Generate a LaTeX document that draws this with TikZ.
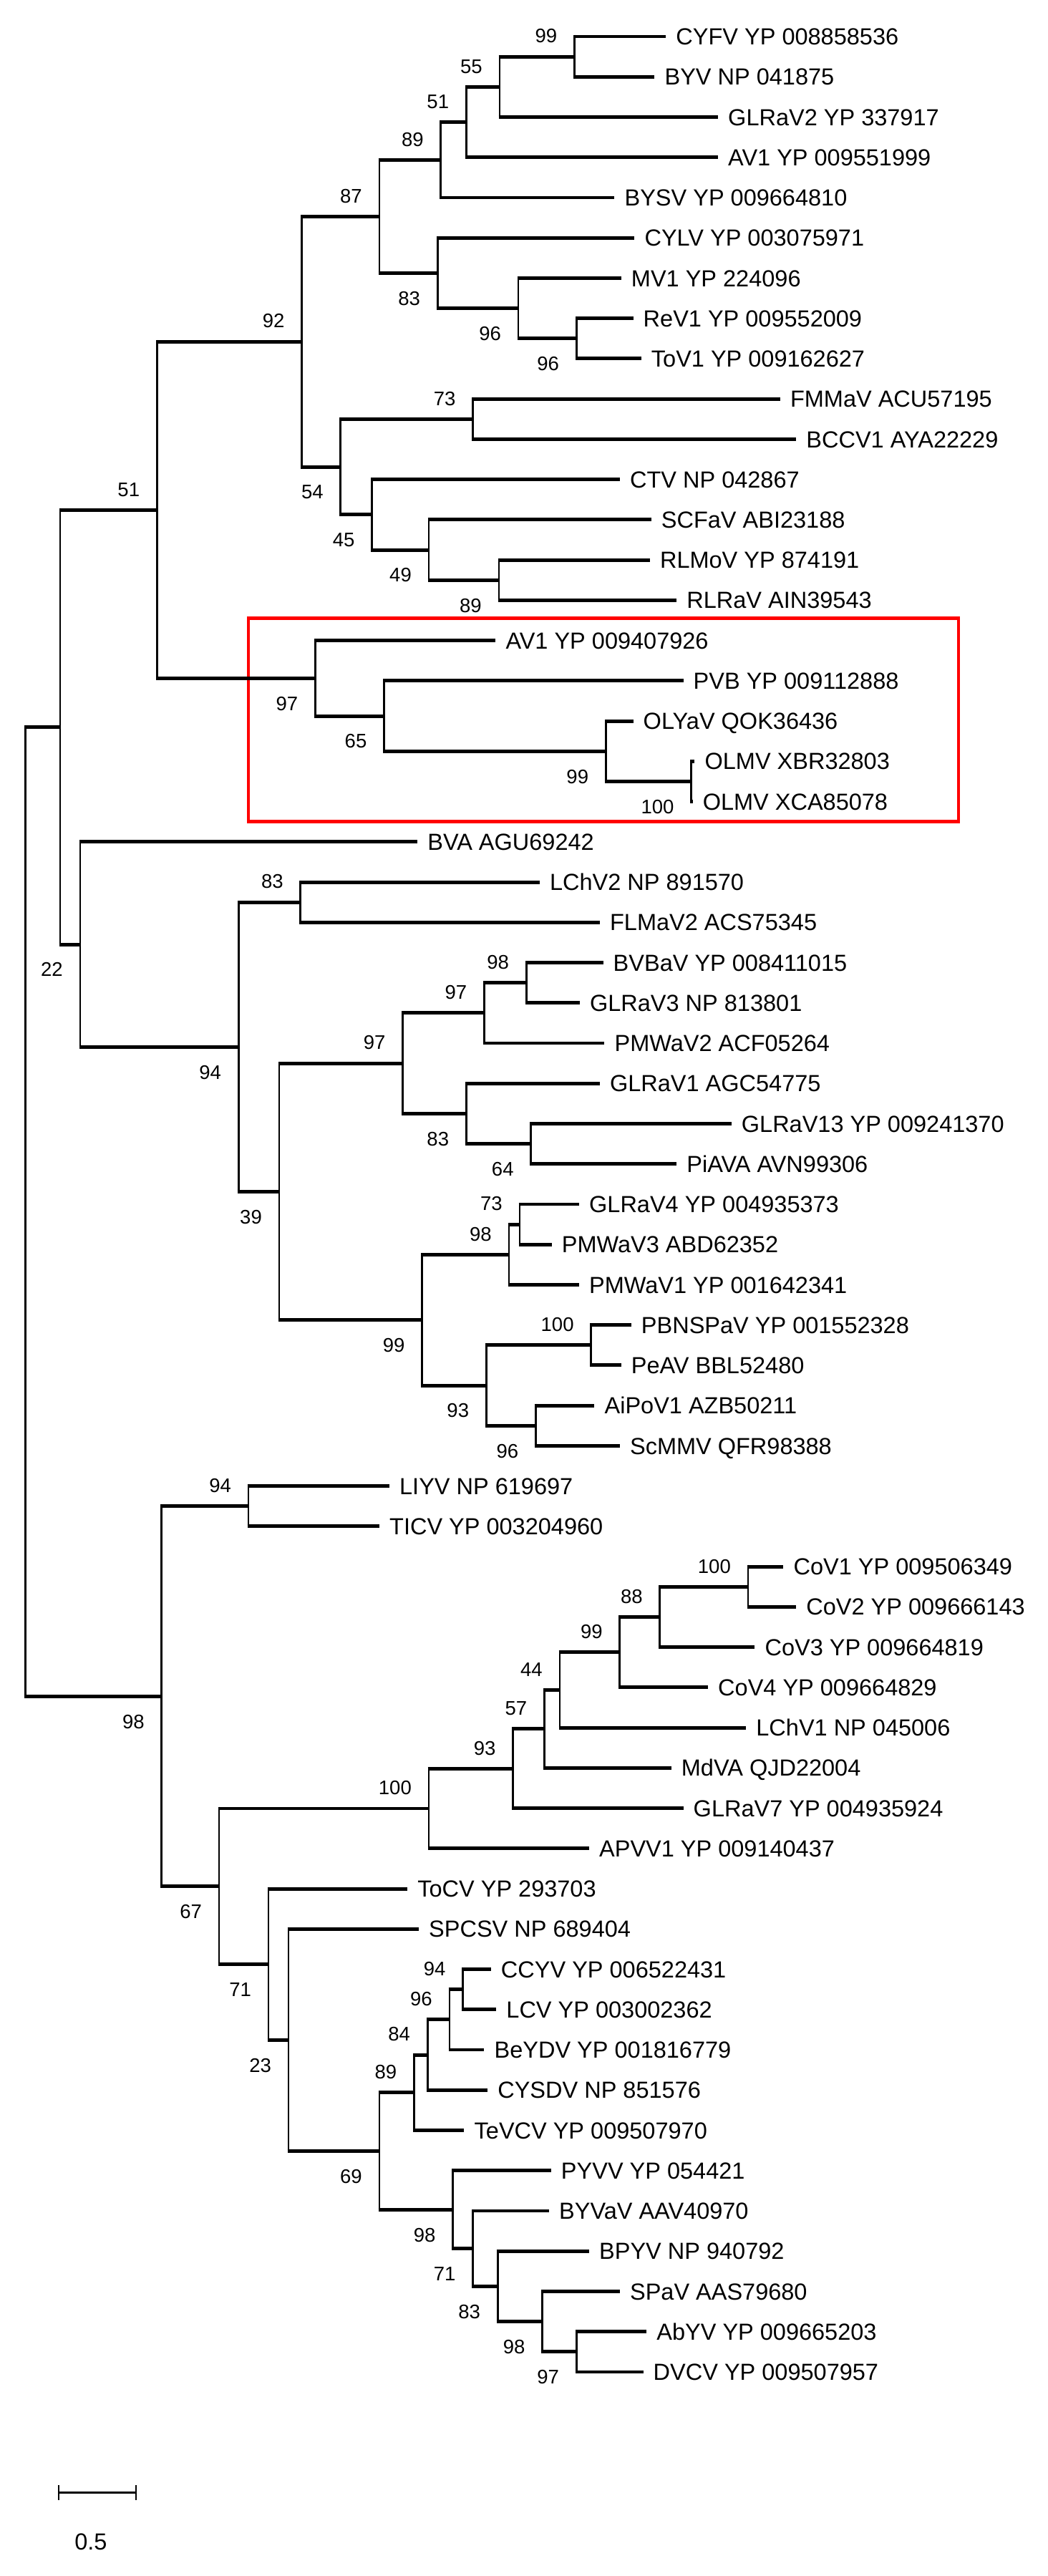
\documentclass[tikz,border=0pt]{standalone}
\usepackage{fontspec}
\setmainfont{Liberation Sans}
\newcommand\mkclade[3]{%
  \draw[vline] (#2 -| #1) -- (#3 -| #1);
  \draw[hline] (#2 -| #1) -- (#2);
  \draw[hline] (#3 -| #1) -- (#3);
}
\tikzset{
  vline/.style={line width=2.8pt, shorten <=-2.45pt, shorten >=-2.45pt},
  hline/.style={line width=4.9pt, shorten <=-1.4pt},
  tiplab/.style={anchor=base west, inner sep=0pt, xshift=14pt, yshift=-11.6pt, font=\fontsize{32.5}{36}\selectfont},
  bsa/.style={anchor=base east, inner sep=0pt, xshift=-24pt, yshift=19.2pt, font=\fontsize{27.5}{30}\selectfont},
  bsb/.style={anchor=base east, inner sep=0pt, xshift=-24pt, yshift=-44.9pt, font=\fontsize{27.5}{30}\selectfont},
  hibox/.style={draw=red, line width=4.6pt},
}
\begin{document}
\begin{tikzpicture}[x=0.93304pt, y=-56.24pt]
\useasboundingbox (0,-0.90683) rectangle (1568,63.0690);

% highlight box
\coordinate (boxTL) at (372,14.443);
\coordinate (boxBR) at (1435,19.493);
\draw[hibox] (boxTL) rectangle (boxBR);

% tip ends
\coordinate (t0) at (997,0);
\coordinate (t1) at (980,1);
\coordinate (t2) at (1075,2);
\coordinate (t3) at (1075,3);
\coordinate (t4) at (920,4);
\coordinate (t5) at (950,5);
\coordinate (t6) at (930,6);
\coordinate (t7) at (948,7);
\coordinate (t8) at (960,8);
\coordinate (t9) at (1168,9);
\coordinate (t10) at (1192,10);
\coordinate (t11) at (928,11);
\coordinate (t12) at (975,12);
\coordinate (t13) at (973,13);
\coordinate (t14) at (1013,14);
\coordinate (t15) at (742,15);
\coordinate (t16) at (1023,16);
\coordinate (t17) at (948,17);
\coordinate (t18) at (1040,18);
\coordinate (t19) at (1037,19);
\coordinate (t20) at (625,20);
\coordinate (t21) at (808,21);
\coordinate (t22) at (898,22);
\coordinate (t23) at (903,23);
\coordinate (t24) at (868,24);
\coordinate (t25) at (905,25);
\coordinate (t26) at (898,26);
\coordinate (t27) at (1095,27);
\coordinate (t28) at (1013,28);
\coordinate (t29) at (867,29);
\coordinate (t30) at (826,30);
\coordinate (t31) at (867,31);
\coordinate (t32) at (945,32);
\coordinate (t33) at (930,33);
\coordinate (t34) at (890,34);
\coordinate (t35) at (928,35);
\coordinate (t36) at (583,36);
\coordinate (t37) at (568,37);
\coordinate (t38) at (1173,38);
\coordinate (t39) at (1192,39);
\coordinate (t40) at (1130,40);
\coordinate (t41) at (1060,41);
\coordinate (t42) at (1117,42);
\coordinate (t43) at (1005,43);
\coordinate (t44) at (1023,44);
\coordinate (t45) at (882,45);
\coordinate (t46) at (610,46);
\coordinate (t47) at (627,47);
\coordinate (t48) at (735,48);
\coordinate (t49) at (743,49);
\coordinate (t50) at (725,50);
\coordinate (t51) at (730,51);
\coordinate (t52) at (695,52);
\coordinate (t53) at (825,53);
\coordinate (t54) at (822,54);
\coordinate (t55) at (882,55);
\coordinate (t56) at (928,56);
\coordinate (t57) at (968,57);
\coordinate (t58) at (963,58);

% internal nodes
\coordinate (n99a) at (860,0.5);
\coordinate (n55) at (748,1.25);
\coordinate (n51) at (698,2.125);
\coordinate (n89) at (660,3.0625);
\coordinate (n96b) at (863,7.5);
\coordinate (n96a) at (776,6.75);
\coordinate (n83) at (655,5.875);
\coordinate (n87) at (568,4.46875);
\coordinate (n73) at (708,9.5);
\coordinate (n89b) at (747,13.5);
\coordinate (n49) at (642,12.75);
\coordinate (n45) at (557,11.875);
\coordinate (n54) at (510,10.6875);
\coordinate (n92) at (452,7.578125);
\coordinate (n100) at (1035,18.5);
\coordinate (n99b) at (907,17.75);
\coordinate (n65) at (575,16.875);
\coordinate (n97) at (472,15.9375);
\coordinate (n51r) at (235,11.7578125);
\coordinate (n83c) at (450,21.5);
\coordinate (n98a) at (788,23.5);
\coordinate (n97d) at (725,24.25);
\coordinate (n64) at (795,27.5);
\coordinate (n83d) at (698,26.75);
\coordinate (n97c) at (603,25.5);
\coordinate (n73b) at (778,29.5);
\coordinate (n98b) at (762,30.25);
\coordinate (n100b) at (885,32.5);
\coordinate (n96c) at (802,34.5);
\coordinate (n93) at (728,33.5);
\coordinate (n99c) at (632,31.875);
\coordinate (n39) at (418,28.6875);
\coordinate (n94) at (357,25.09375);
\coordinate (n22) at (120,22.546875);
\coordinate (nA) at (90,17.15234375);
\coordinate (n94b) at (372,36.5);
\coordinate (n100d) at (1120,38.5);
\coordinate (n88) at (988,39.25);
\coordinate (n99d) at (928,40.125);
\coordinate (n44) at (838,41.0625);
\coordinate (n57) at (815,42.03125);
\coordinate (n93b) at (768,43.015625);
\coordinate (n100c) at (642,44.0078125);
\coordinate (n94c) at (693,48.5);
\coordinate (n96d) at (673,49.25);
\coordinate (n84) at (640,50.125);
\coordinate (n89c) at (620,51.0625);
\coordinate (n97e) at (863,57.5);
\coordinate (n98d) at (812,56.75);
\coordinate (n83e) at (745,55.875);
\coordinate (n71b) at (708,54.9375);
\coordinate (n98c) at (678,53.96875);
\coordinate (n69) at (568,52.515625);
\coordinate (n23) at (432,49.7578125);
\coordinate (n71) at (402,47.87890625);
\coordinate (n67) at (328,45.943359375);
\coordinate (n98r) at (242,41.2216796875);
\coordinate (root) at (38,29.18701171875);

% branches
\mkclade{n99a}{t0}{t1}
\mkclade{n55}{n99a}{t2}
\mkclade{n51}{n55}{t3}
\mkclade{n89}{n51}{t4}
\mkclade{n96b}{t7}{t8}
\mkclade{n96a}{t6}{n96b}
\mkclade{n83}{t5}{n96a}
\mkclade{n87}{n89}{n83}
\mkclade{n73}{t9}{t10}
\mkclade{n89b}{t13}{t14}
\mkclade{n49}{t12}{n89b}
\mkclade{n45}{t11}{n49}
\mkclade{n54}{n73}{n45}
\mkclade{n92}{n87}{n54}
\mkclade{n100}{t18}{t19}
\mkclade{n99b}{t17}{n100}
\mkclade{n65}{t16}{n99b}
\mkclade{n97}{t15}{n65}
\mkclade{n51r}{n92}{n97}
\mkclade{n83c}{t21}{t22}
\mkclade{n98a}{t23}{t24}
\mkclade{n97d}{n98a}{t25}
\mkclade{n64}{t27}{t28}
\mkclade{n83d}{t26}{n64}
\mkclade{n97c}{n97d}{n83d}
\mkclade{n73b}{t29}{t30}
\mkclade{n98b}{n73b}{t31}
\mkclade{n100b}{t32}{t33}
\mkclade{n96c}{t34}{t35}
\mkclade{n93}{n100b}{n96c}
\mkclade{n99c}{n98b}{n93}
\mkclade{n39}{n97c}{n99c}
\mkclade{n94}{n83c}{n39}
\mkclade{n22}{t20}{n94}
\mkclade{nA}{n51r}{n22}
\mkclade{n94b}{t36}{t37}
\mkclade{n100d}{t38}{t39}
\mkclade{n88}{n100d}{t40}
\mkclade{n99d}{n88}{t41}
\mkclade{n44}{n99d}{t42}
\mkclade{n57}{n44}{t43}
\mkclade{n93b}{n57}{t44}
\mkclade{n100c}{n93b}{t45}
\mkclade{n94c}{t48}{t49}
\mkclade{n96d}{n94c}{t50}
\mkclade{n84}{n96d}{t51}
\mkclade{n89c}{n84}{t52}
\mkclade{n97e}{t57}{t58}
\mkclade{n98d}{t56}{n97e}
\mkclade{n83e}{t55}{n98d}
\mkclade{n71b}{t54}{n83e}
\mkclade{n98c}{t53}{n71b}
\mkclade{n69}{n89c}{n98c}
\mkclade{n23}{t47}{n69}
\mkclade{n71}{t46}{n23}
\mkclade{n67}{n100c}{n71}
\mkclade{n98r}{n94b}{n67}
\mkclade{root}{nA}{n98r}

% tip labels
\foreach \i/\txt in {0/CYFV YP 008858536, 1/BYV NP 041875, 2/GLRaV2 YP 337917,
  3/AV1 YP 009551999, 4/BYSV YP 009664810, 5/CYLV YP 003075971, 6/MV1 YP 224096,
  7/ReV1 YP 009552009, 8/ToV1 YP 009162627, 9/FMMaV ACU57195, 10/BCCV1 AYA22229,
  11/CTV NP 042867, 12/SCFaV ABI23188, 13/RLMoV YP 874191, 14/RLRaV AIN39543,
  15/AV1 YP 009407926, 16/PVB YP 009112888, 17/OLYaV QOK36436, 18/OLMV XBR32803,
  19/OLMV XCA85078, 20/BVA AGU69242, 21/LChV2 NP 891570, 22/FLMaV2 ACS75345,
  23/BVBaV YP 008411015, 24/GLRaV3 NP 813801, 25/PMWaV2 ACF05264, 26/GLRaV1 AGC54775,
  27/GLRaV13 YP 009241370, 28/PiAVA AVN99306, 29/GLRaV4 YP 004935373, 30/PMWaV3 ABD62352,
  31/PMWaV1 YP 001642341, 32/PBNSPaV YP 001552328, 33/PeAV BBL52480, 34/AiPoV1 AZB50211,
  35/ScMMV QFR98388, 36/LIYV NP 619697, 37/TICV YP 003204960, 38/CoV1 YP 009506349,
  39/CoV2 YP 009666143, 40/CoV3 YP 009664819, 41/CoV4 YP 009664829, 42/LChV1 NP 045006,
  43/MdVA QJD22004, 44/GLRaV7 YP 004935924, 45/APVV1 YP 009140437, 46/ToCV YP 293703,
  47/SPCSV NP 689404, 48/CCYV YP 006522431, 49/LCV YP 003002362, 50/BeYDV YP 001816779,
  51/CYSDV NP 851576, 52/TeVCV YP 009507970, 53/PYVV YP 054421, 54/BYVaV AAV40970,
  55/BPYV NP 940792, 56/SPaV AAS79680, 57/AbYV YP 009665203, 58/DVCV YP 009507957}
  \node[tiplab] (L\i) at (t\i) {\txt};

% bootstrap values above
\foreach \n/\v in {n99a/99, n55/55, n51/51, n89/89, n87/87, n73/73, n92/92, n51r/51,
  n83c/83, n98a/98, n97d/97, n97c/97, n73b/73, n98b/98, n100b/100, n94b/94,
  n100d/100, n88/88, n99d/99, n44/44, n57/57, n93b/93, n100c/100,
  n94c/94, n96d/96, n84/84, n89c/89}
  \node[bsa] (bs-\n) at (\n) {\v};

% bootstrap values below
\foreach \n/\v in {n96b/96, n96a/96, n83/83, n89b/89, n49/49, n45/45, n54/54,
  n100/100, n99b/99, n65/65, n97/97, n64/64, n83d/83, n96c/96, n93/93, n99c/99,
  n39/39, n94/94, n22/22, n97e/97, n98d/98, n83e/83, n71b/71, n98c/98, n69/69,
  n23/23, n71/71, n67/67, n98r/98}
  \node[bsb] (bs-\n) at (\n) {\v};

% scale bar
\coordinate (sbL) at (88,61.0);
\coordinate (sbR) at (204,61.0);
\draw[line width=3.5pt] (sbL) -- (sbR);
\draw[line width=2pt] ([yshift=10.5pt]sbL) -- ([yshift=-10.5pt]sbL);
\draw[line width=2pt] ([yshift=10.5pt]sbR) -- ([yshift=-10.5pt]sbR);
\node[inner sep=0pt, font=\fontsize{32.5}{36}\selectfont] (sblab) at (136,62.226) {0.5};
\end{tikzpicture}
\end{document}
